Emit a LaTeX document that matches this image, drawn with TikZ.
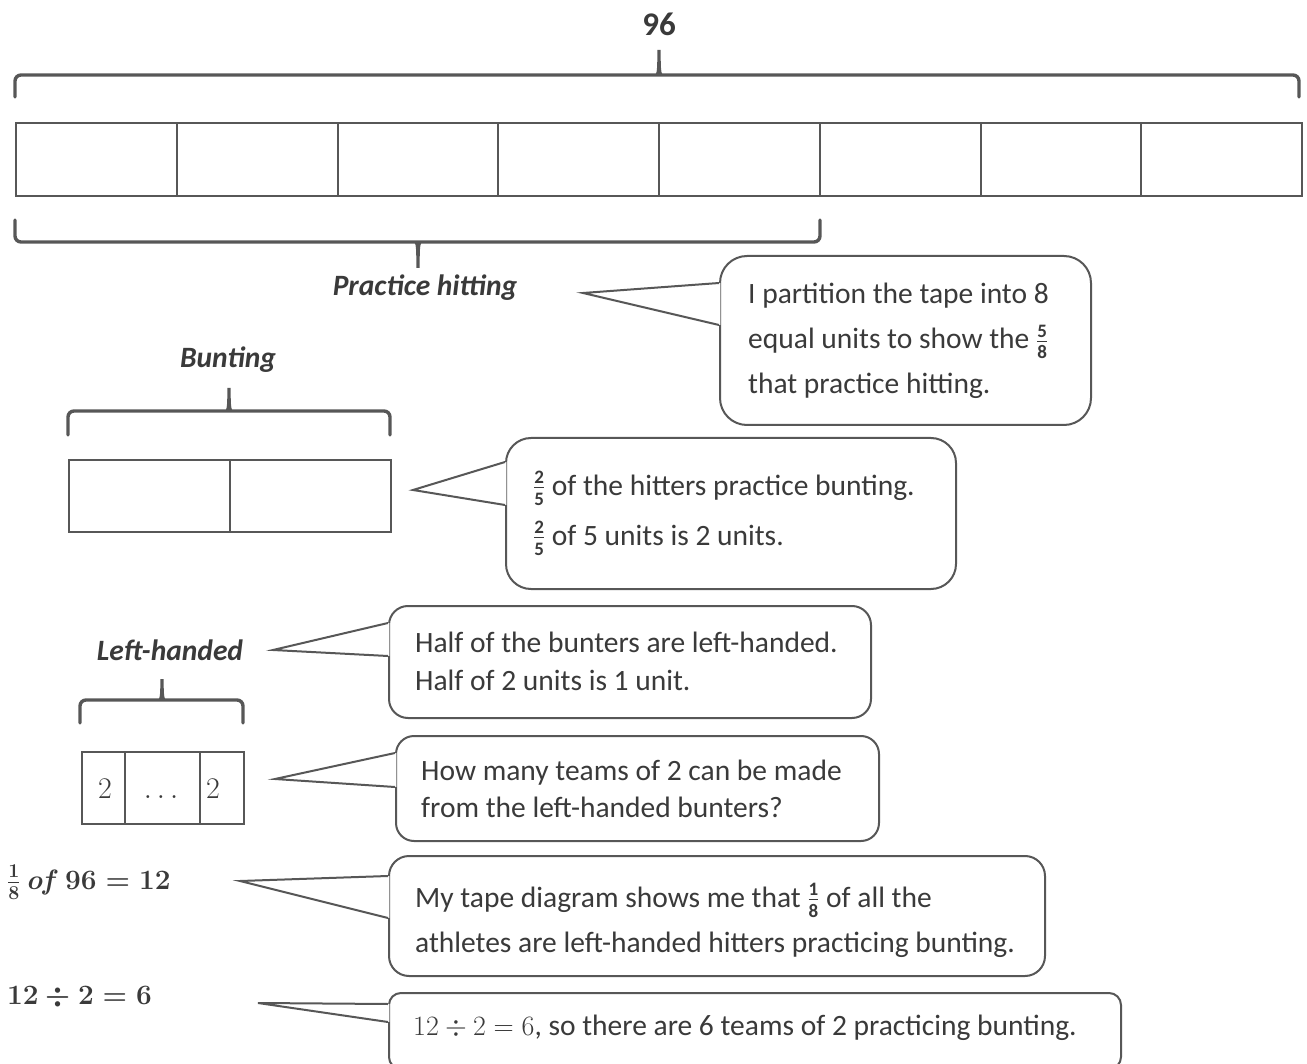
\RequirePackage{fix-cm}
\documentclass[tikz,border=0pt]{standalone}
\usepackage{amsmath}
\usepackage[no-math]{fontspec}
\setmainfont{Carlito}
\definecolor{lc}{HTML}{575757}
\definecolor{tc}{HTML}{3A3A3A}
\newcommand\ctsize{\fontsize{29.5}{36}\selectfont}
\newcommand\smfr[2]{\ensuremath{\genfrac{}{}{1.3pt}{}{\hbox{\fontsize{19}{19}\selectfont\bfseries #1}}{\hbox{\fontsize{19}{19}\selectfont\bfseries #2}}}}
\newcommand\brtick[4]{\fill[lc] ({#1-5},{#2}) .. controls ({#1-1.7},{#2}) and ({#1-1.7},{#2+6*#4}) .. ({#1-1.7},{#3}) -- ({#1+1.7},{#3}) .. controls ({#1+1.7},{#2+6*#4}) and ({#1+1.7},{#2}) .. ({#1+5},{#2}) -- cycle;}
\newcommand\pointer[4]{\fill[white] ({#1+1.3},{#2}) -- (#4) -- ({#1+1.3},{#3}) -- cycle;
  \draw[ptr] (#1,#2) -- (#4) -- (#1,#3);}
\newcommand\eqone{\ensuremath{\frac{1}{8}\,\mathit{of}\,96=12}}
\newcommand\eqtwo{\ensuremath{12\div 2=6}}
\begin{document}
\begin{tikzpicture}[x=1pt,y=-1pt,
  cell/.style={draw=lc, line width=2pt, inner sep=0pt, anchor=north west},
  brc/.style={draw=lc, line width=3.4pt, rounded corners=6pt, line cap=round},
  cbox/.style={draw=lc, line width=2pt, inner sep=0pt, anchor=north west, fill=white},
  ptr/.style={draw=lc, line width=2pt, line join=miter},
  lbl/.style={text=tc, font=\ctsize\bfseries\itshape, inner sep=0pt},
  ctext/.style={text=tc, align=left, inner sep=0pt, anchor=west},
  eqn/.style={text=tc, font=\fontsize{28}{34}\selectfont\boldmath, inner sep=0pt, anchor=west},
  num/.style={text=tc, font=\fontsize{30}{36}\selectfont, inner sep=0pt, anchor=base},
]
\useasboundingbox (0,0) rectangle (1307,1064);
\clip (0,0) rectangle (1307,1064);

% ---- whole tape (96)
\node[text=tc, font=\fontsize{33}{40}\selectfont\bfseries, inner sep=0pt] (n96) at (659,24) {96};
\draw[brc] (15,97) -- (15,75) -- (1299,75) -- (1299,97);
\brtick{659}{75}{50}{-1}
\foreach \i in {0,...,7}
  \node[cell, minimum width=160.75pt, minimum height=73pt] (m\i) at ({15+\i*160.75},122) {};

% ---- practice hitting brace
\draw[brc] (15,220) -- (15,242) -- (820,242) -- (820,220);
\brtick{418}{242}{268}{1}
\node[lbl] (hit) at (425,288) {Practice hitting};

% ---- callout 1
\node[cbox, rounded corners=27pt, minimum width=371pt, minimum height=169pt] (c1) at (719,255) {};
\coordinate (p1) at (583,293);
\pointer{719}{283}{325}{p1}
\node[ctext, font=\fontsize{29.5}{45}\selectfont] (t1) at (748,341)
  {I partition the tape into 8\\equal units to show the \smash{\smfr{5}{8}}\\that practice hitting.};

% ---- bunting
\node[lbl] (bun) at (228,360) {Bunting};
\draw[brc] (68,435) -- (68,411) -- (390,411) -- (390,435);
\brtick{229}{411}{388}{-1}
\node[cell, minimum width=161pt, minimum height=72pt] (b0) at (68,459) {};
\node[cell, minimum width=161pt, minimum height=72pt] (b1) at (229,459) {};

% ---- callout 2
\node[cbox, rounded corners=25pt, minimum width=450pt, minimum height=151pt] (c2) at (505,437) {};
\coordinate (p2) at (413,490);
\pointer{505}{462}{505}{p2}
\node[ctext, font=\fontsize{29.5}{50}\selectfont] (t2) at (533,510)
  {\smash{\smfr{2}{5}} of the hitters practice bunting.\\\smash{\smfr{2}{5}} of 5 units is 2 units.};

% ---- left-handed
\node[lbl] (lh) at (170,650) {Left-handed};
\draw[brc] (80,723) -- (80,700) -- (243,700) -- (243,723);
\brtick{162}{700}{679}{-1}
\node[cell, minimum width=43pt, minimum height=72pt] (s0) at (81,751) {};
\node[cell, minimum width=75pt, minimum height=72pt] (s1) at (124,751) {};
\node[cell, minimum width=44pt, minimum height=72pt] (s2) at (199,751) {};
\node[num] (s0t) at (105,798) {$2$};
\node[num] (s1t) at (161,798) {$\ldots$};
\node[num] (s2t) at (213,798) {$2$};

% ---- callout 3
\node[cbox, rounded corners=19pt, minimum width=482pt, minimum height=112pt] (c3) at (388,605) {};
\coordinate (p3) at (273,650);
\pointer{388}{623}{656}{p3}
\node[ctext, font=\fontsize{29.5}{38}\selectfont] (t3) at (415,661)
  {Half of the bunters are left-handed.\\Half of 2 units is 1 unit.};

% ---- callout 4
\node[cbox, rounded corners=18pt, minimum width=483pt, minimum height=105pt] (c4) at (395,735) {};
\coordinate (p4) at (275,779);
\pointer{395}{753}{787}{p4}
\node[ctext, font=\fontsize{29.5}{37}\selectfont] (t4) at (421,789)
  {How many teams of 2 can be made\\from the left-handed bunters?};

% ---- equation 1 and callout 5
\node[eqn] (eq1) at (7,882) {\eqone};
\node[cbox, rounded corners=20pt, minimum width=656pt, minimum height=120pt] (c5) at (388,855) {};
\coordinate (p5) at (240,881);
\pointer{388}{876}{918}{p5}
\node[ctext, font=\fontsize{29.5}{45}\selectfont] (t5) at (415,922)
  {My tape diagram shows me that \smash{\smfr{1}{8}} of all the\\athletes are left-handed hitters practicing bunting.};

% ---- equation 2 and callout 6
\node[eqn] (eq2) at (7,997) {\eqtwo};
\node[cbox, rounded corners=12pt, minimum width=732pt, minimum height=76pt] (c6) at (388,992) {};
\coordinate (p6) at (258,1003);
\pointer{388}{1004}{1022}{p6}
\node[ctext, font=\ctsize] (t6) at (413,1028)
  {{\fontsize{28}{34}\selectfont\eqtwo}, so there are 6 teams of 2 practicing bunting.};
\end{tikzpicture}
\end{document}
